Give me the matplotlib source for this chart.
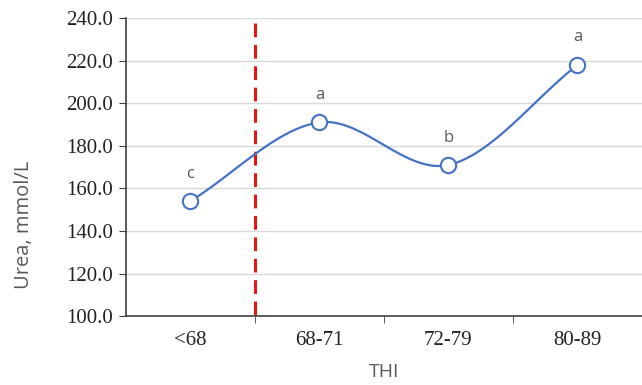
import numpy as np
import matplotlib
matplotlib.use("Agg")
import matplotlib.pyplot as plt

categories = ["<68", "68-71", "72-79", "80-89"]
urea = [154.0, 191.0, 171.0, 218.0]
letters = ["c", "a", "b", "a"]
yticks = [100.0, 120.0, 140.0, 160.0, 180.0, 200.0, 220.0, 240.0]
threshold_pos = 0.5  # boundary between "<68" and "68-71"

def catmull_rom(x, y, n=40):
    x = np.asarray(x, float); y = np.asarray(y, float)
    px = np.concatenate([[2*x[0]-x[1]], x, [2*x[-1]-x[-2]]])
    py = np.concatenate([[2*y[0]-y[1]], y, [2*y[-1]-y[-2]]])
    xs, ys = [], []
    for i in range(1, len(px)-2):
        t = np.linspace(0, 1, n)
        for p, out in ((px, xs), (py, ys)):
            p0, p1, p2, p3 = p[i-1], p[i], p[i+1], p[i+2]
            out.append(0.5*((2*p1) + (-p0+p2)*t + (2*p0-5*p1+4*p2-p3)*t**2 + (-p0+3*p1-3*p2+p3)*t**3))
    return np.concatenate(xs), np.concatenate(ys)

fig = plt.figure(figsize=(6.42, 3.85), dpi=100)
ax = fig.add_axes([0.196, 0.179, 0.804, 0.774])
x = np.arange(len(categories))
sx, sy = catmull_rom(x, urea)

ax.set_xlim(-0.5, 3.5)
ax.set_ylim(100, 240)
ax.set_yticks(yticks)
ax.set_yticklabels([f"{v:.1f}" for v in yticks])
ax.yaxis.grid(True, color="#d9d9d9", linewidth=1.0)
ax.set_axisbelow(True)

ax.axvline(threshold_pos, color="#e8161b", linestyle=(0, (4.5, 2.5)), linewidth=2.2,
           ymin=0.985, ymax=-0.015, zorder=2, clip_on=False)
ax.plot(sx, sy, color="#4472c4", linewidth=1.6, zorder=3)
ax.plot(x, urea, linestyle="none", marker="o", markersize=11, markerfacecolor="white",
        markeredgecolor="#4472c4", markeredgewidth=1.5, zorder=4)
for xi, yi, lt in zip(x, urea, letters):
    ax.annotate(lt, (xi, yi), xytext=(0, 14), textcoords="offset points", ha="center", va="bottom",
                fontsize=12, color="#595959", family="Open Sans")

ax.set_xticks(x)
ax.set_xticklabels(categories)
ax.set_xticks([0.5, 1.5, 2.5, 3.5], minor=True)
ax.tick_params(axis="x", which="major", length=0, pad=11)
ax.tick_params(axis="x", which="minor", length=5, direction="out", color="#404040")
ax.tick_params(axis="y", length=5, direction="out", color="#404040", pad=4)
for lab in ax.get_xticklabels() + ax.get_yticklabels():
    lab.set_fontfamily("Liberation Serif")
    lab.set_fontsize(15)
    lab.set_color("#222222")

for s in ["top", "right"]:
    ax.spines[s].set_visible(False)
for s in ["left", "bottom"]:
    ax.spines[s].set_color("#404040")
    ax.spines[s].set_linewidth(1.2)

ax.set_ylabel("Urea, mmol/L", fontsize=14.5, color="#595959", family="Open Sans")
ax.yaxis.set_label_coords(-0.177, 0.305)
ax.set_xlabel("THI", fontsize=14, color="#595959", family="Open Sans", labelpad=9)

fig.savefig("out.png", dpi=100)
